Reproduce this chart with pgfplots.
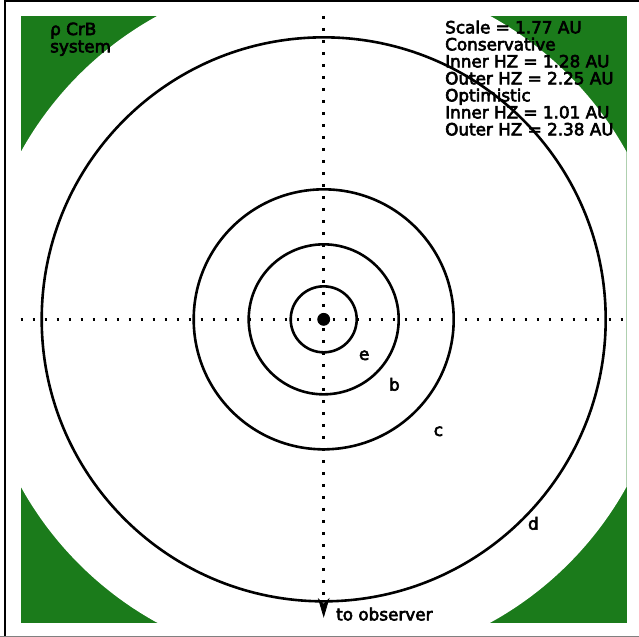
\documentclass[border=0pt]{standalone}
\usepackage{pgfplots}
\pgfplotsset{compat=1.18}
\usepackage{fontspec}
\setmainfont{DejaVu Sans}
\newfontfamily\labfont{DejaVu Sans}[FakeBold=3.5]
\definecolor{hzgreen}{RGB}{27,123,27}
\tikzset{lab/.style={inner sep=0pt, outer sep=0pt, font=\labfont\fontsize{8.4}{10}\selectfont}}
\begin{document}
\begin{tikzpicture}
\path[use as bounding box] (0pt,0pt) rectangle (319.5pt,318.5pt);
% outer frame
\draw[line width=1pt] (2.5pt,0.5pt) -- (2.5pt,318pt) -- (319.5pt,318pt);
\draw[gray, line width=0.6pt] (0pt,0.3pt) -- (319.5pt,0.3pt);
\begin{axis}[
    at={(10.35pt,7.15pt)}, anchor=south west,
    width=303pt, height=303.35pt, scale only axis,
    xmin=-303, xmax=303, ymin=-303.35, ymax=303.35,
    hide axis, clip=false,
]
% habitable zone background
\fill[hzgreen] (rel axis cs:0,0) rectangle (rel axis cs:1,1);
\begin{scope}
\clip (rel axis cs:0,0) rectangle (rel axis cs:1,1);
\fill[white] (axis cs:0,0) circle[radius=346];
\end{scope}
% dotted axes
\addplot[black, line width=1.4pt, dash pattern=on 1.4pt off 4.6pt] coordinates {(-303,0) (303,0)};
\addplot[black, line width=1.4pt, dash pattern=on 1.4pt off 4.6pt] coordinates {(0,303.35) (0,-281)};
\addplot[black, fill=black] coordinates {(-5,-280) (0,-285) (5,-280) (0,-297)} -- cycle;
% orbits (radius in px)
\draw[line width=1.3pt] (axis cs:0,0) circle[radius=33];
\draw[line width=1.3pt] (axis cs:0,0) circle[radius=75];
\draw[line width=1.3pt] (axis cs:0,0) circle[radius=130];
\draw[line width=1.3pt] (axis cs:0,0) circle[radius=282];
% star
\addplot[only marks, mark=*, mark size=3pt, black] coordinates {(0,0)};
% planet labels
\node[lab] at (axis cs:40.5,-36) {e};
\node[lab] at (axis cs:70.7,-65) {b};
\node[lab] at (axis cs:114.7,-112) {c};
\node[lab] at (axis cs:209.7,-204) {d};
\node[lab, anchor=base west] at (axis cs:12.5,-301) {to observer};
% system name
\node[lab, anchor=base west] at (axis cs:-273.5,284.3) {ρ CrB};
\node[lab, anchor=base west] at (axis cs:-273.5,267) {system};
% HZ info
\node[lab, anchor=base west] at (axis cs:121.5,286) {Scale = 1.77 AU};
\node[lab, anchor=base west] at (axis cs:121.5,269) {Conservative};
\node[lab, anchor=base west] at (axis cs:121.5,252) {Inner HZ = 1.28 AU};
\node[lab, anchor=base west] at (axis cs:121.5,235) {Outer HZ = 2.25 AU};
\node[lab, anchor=base west] at (axis cs:121.5,218) {Optimistic};
\node[lab, anchor=base west] at (axis cs:121.5,201) {Inner HZ = 1.01 AU};
\node[lab, anchor=base west] at (axis cs:121.5,184) {Outer HZ = 2.38 AU};
\end{axis}
\end{tikzpicture}
\end{document}
